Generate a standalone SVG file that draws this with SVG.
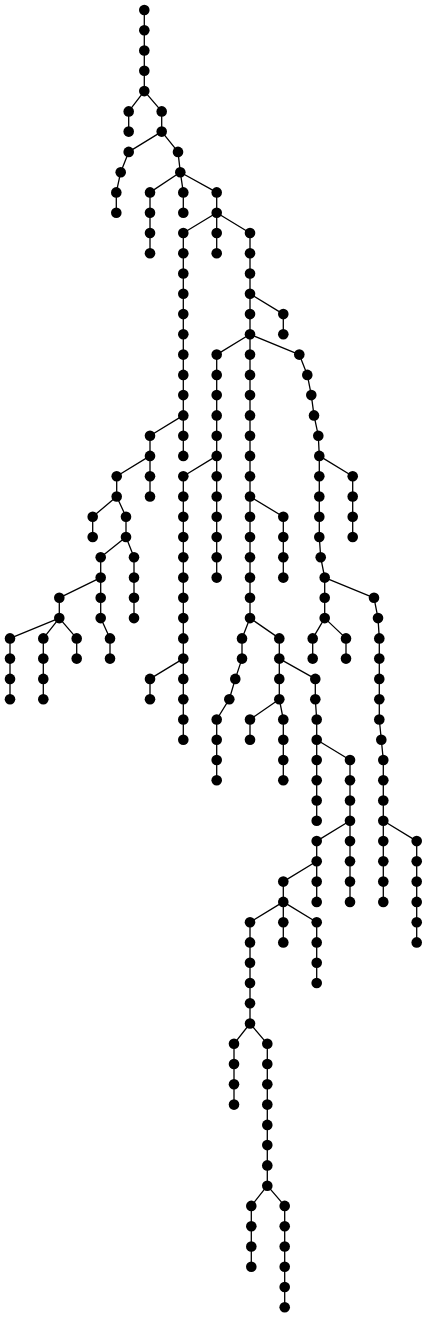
<svg xmlns="http://www.w3.org/2000/svg" xmlns:xlink="http://www.w3.org/1999/xlink" width="427" height="1317" viewBox="0 0 427 1317">
<style>
.e path{fill:none;stroke:#000;stroke-width:1.3;stroke-linejoin:round}
.n{fill:#000}
</style>
<defs><circle id="d" r="5.3"/></defs>
<rect width="427" height="1317" fill="#fff"/>
<g class="e" id="connectors">
<path d="M144.3 10V91.1"/>
<path d="M144.3 91.1L128.7 111.4V131.6"/>
<path d="M144.3 91.1L161.7 111.4V131.6L128.7 151.9L120.7 172.2L116.3 192.4V212.7"/>
<path d="M161.7 131.6L178 151.9L180.3 172.2L150 192.4V253.2"/>
<path d="M180.3 172.2L183.3 192.4V212.7"/>
<path d="M180.3 172.2L216.7 192.4V253.2"/>
<path d="M216.7 212.7L183.3 233V455.9"/>
<path d="M216.7 212.7L250 233V618.1"/>
<path d="M183.3 415.4L150 435.7V496.5"/>
<path d="M150 455.9L116.7 476.2V496.5L92.7 516.8V537"/>
<path d="M116.7 496.5L126 516.8V537L134 557.3V618.1"/>
<path d="M126 537L100.7 557.3V618.1L110 638.4V658.6"/>
<path d="M100.7 577.6L59.3 597.8V618.1L10 638.4V699.2"/>
<path d="M59.3 618.1L43.3 638.4V699.2"/>
<path d="M59.3 618.1L76.7 638.4V658.6"/>
<path d="M250 293.8L283.3 314.1V334.3"/>
<path d="M250 334.3L216.7 354.6V577.6"/>
<path d="M216.7 455.9L183.3 476.2V739.7"/>
<path d="M183.3 658.6L150 678.9V699.2"/>
<path d="M250 496.5L283.3 516.8V577.6"/>
<path d="M250 334.3L299.3 354.6L307.3 374.9L311.3 395.1L314 415.4L318.3 435.7L319.3 455.9V537L320.7 557.3L324.7 577.6V618.1L312.7 638.4V658.6"/>
<path d="M319.3 455.9L352.7 476.2V537"/>
<path d="M324.7 618.1L346 638.4V658.6"/>
<path d="M324.7 577.6L374 597.8L378 618.1L379.3 638.4V719.5L381.3 739.7L383.3 760V901.9"/>
<path d="M383.3 820.8L416.7 841.1V942.4"/>
<path d="M250 618.1L242 638.4V658.6L235.3 678.9L229.3 699.2L216.7 719.5V780.3"/>
<path d="M250 618.1L279.3 638.4V699.2L250 719.5V739.7"/>
<path d="M279.3 699.2L283.3 719.5V780.3"/>
<path d="M279.3 658.6L315.3 678.9V699.2L316.7 719.5V820.8"/>
<path d="M316.7 739.7L350 760V901.9"/>
<path d="M350 820.8L316.7 841.1V901.9"/>
<path d="M316.7 861.3L283.3 881.6V942.4"/>
<path d="M283.3 901.9L316.7 922.2V983"/>
<path d="M283.3 901.9L250 922.2V1023.5L234 1043.8V1104.6"/>
<path d="M250 1023.5L267.3 1043.8V1185.7L251.3 1205.9V1266.7"/>
<path d="M267.3 1185.7L284.7 1205.9V1307.3"/>
</g>
<g class="n" id="nodes">
<g id="n0"><use href="#d" x="144.3" y="10"/></g>
<g id="n1"><use href="#d" x="144.3" y="30.3"/></g>
<g id="n2"><use href="#d" x="144.3" y="50.5"/></g>
<g id="n3"><use href="#d" x="144.3" y="70.8"/></g>
<g id="n4"><use href="#d" x="144.3" y="91.1"/></g>
<g id="n5"><use href="#d" x="128.7" y="111.4"/></g>
<g id="n6"><use href="#d" x="128.7" y="131.6"/></g>
<g id="n7"><use href="#d" x="161.7" y="111.4"/></g>
<g id="n8"><use href="#d" x="161.7" y="131.6"/></g>
<g id="n9"><use href="#d" x="128.7" y="151.9"/></g>
<g id="n10"><use href="#d" x="120.7" y="172.2"/></g>
<g id="n11"><use href="#d" x="116.3" y="192.4"/></g>
<g id="n12"><use href="#d" x="116.3" y="212.7"/></g>
<g id="n13"><use href="#d" x="178" y="151.9"/></g>
<g id="n14"><use href="#d" x="180.3" y="172.2"/></g>
<g id="n15"><use href="#d" x="150" y="192.4"/></g>
<g id="n16"><use href="#d" x="150" y="212.7"/></g>
<g id="n17"><use href="#d" x="150" y="233"/></g>
<g id="n18"><use href="#d" x="150" y="253.2"/></g>
<g id="n19"><use href="#d" x="183.3" y="192.4"/></g>
<g id="n20"><use href="#d" x="183.3" y="212.7"/></g>
<g id="n21"><use href="#d" x="216.7" y="192.4"/></g>
<g id="n22"><use href="#d" x="216.7" y="212.7"/></g>
<g id="n23"><use href="#d" x="216.7" y="233"/></g>
<g id="n24"><use href="#d" x="216.7" y="253.2"/></g>
<g id="n25"><use href="#d" x="183.3" y="233"/></g>
<g id="n26"><use href="#d" x="183.3" y="253.2"/></g>
<g id="n27"><use href="#d" x="183.3" y="273.5"/></g>
<g id="n28"><use href="#d" x="183.3" y="293.8"/></g>
<g id="n29"><use href="#d" x="183.3" y="314.1"/></g>
<g id="n30"><use href="#d" x="183.3" y="334.3"/></g>
<g id="n31"><use href="#d" x="183.3" y="354.6"/></g>
<g id="n32"><use href="#d" x="183.3" y="374.9"/></g>
<g id="n33"><use href="#d" x="183.3" y="395.1"/></g>
<g id="n34"><use href="#d" x="183.3" y="415.4"/></g>
<g id="n35"><use href="#d" x="183.3" y="435.7"/></g>
<g id="n36"><use href="#d" x="183.3" y="455.9"/></g>
<g id="n37"><use href="#d" x="150" y="435.7"/></g>
<g id="n38"><use href="#d" x="150" y="455.9"/></g>
<g id="n39"><use href="#d" x="150" y="476.2"/></g>
<g id="n40"><use href="#d" x="150" y="496.5"/></g>
<g id="n41"><use href="#d" x="116.7" y="476.2"/></g>
<g id="n42"><use href="#d" x="116.7" y="496.5"/></g>
<g id="n43"><use href="#d" x="92.7" y="516.8"/></g>
<g id="n44"><use href="#d" x="92.7" y="537"/></g>
<g id="n45"><use href="#d" x="126" y="516.8"/></g>
<g id="n46"><use href="#d" x="126" y="537"/></g>
<g id="n47"><use href="#d" x="134" y="557.3"/></g>
<g id="n48"><use href="#d" x="134" y="577.6"/></g>
<g id="n49"><use href="#d" x="134" y="597.8"/></g>
<g id="n50"><use href="#d" x="134" y="618.1"/></g>
<g id="n51"><use href="#d" x="100.7" y="557.3"/></g>
<g id="n52"><use href="#d" x="100.7" y="577.6"/></g>
<g id="n53"><use href="#d" x="100.7" y="597.8"/></g>
<g id="n54"><use href="#d" x="100.7" y="618.1"/></g>
<g id="n55"><use href="#d" x="110" y="638.4"/></g>
<g id="n56"><use href="#d" x="110" y="658.6"/></g>
<g id="n57"><use href="#d" x="59.3" y="597.8"/></g>
<g id="n58"><use href="#d" x="59.3" y="618.1"/></g>
<g id="n59"><use href="#d" x="10" y="638.4"/></g>
<g id="n60"><use href="#d" x="10" y="658.6"/></g>
<g id="n61"><use href="#d" x="10" y="678.9"/></g>
<g id="n62"><use href="#d" x="10" y="699.2"/></g>
<g id="n63"><use href="#d" x="43.3" y="638.4"/></g>
<g id="n64"><use href="#d" x="43.3" y="658.6"/></g>
<g id="n65"><use href="#d" x="43.3" y="678.9"/></g>
<g id="n66"><use href="#d" x="43.3" y="699.2"/></g>
<g id="n67"><use href="#d" x="76.7" y="638.4"/></g>
<g id="n68"><use href="#d" x="76.7" y="658.6"/></g>
<g id="n69"><use href="#d" x="250" y="233"/></g>
<g id="n70"><use href="#d" x="250" y="253.2"/></g>
<g id="n71"><use href="#d" x="250" y="273.5"/></g>
<g id="n72"><use href="#d" x="250" y="293.8"/></g>
<g id="n73"><use href="#d" x="250" y="314.1"/></g>
<g id="n74"><use href="#d" x="250" y="334.3"/></g>
<g id="n75"><use href="#d" x="250" y="354.6"/></g>
<g id="n76"><use href="#d" x="250" y="374.9"/></g>
<g id="n77"><use href="#d" x="250" y="395.1"/></g>
<g id="n78"><use href="#d" x="250" y="415.4"/></g>
<g id="n79"><use href="#d" x="250" y="435.7"/></g>
<g id="n80"><use href="#d" x="250" y="455.9"/></g>
<g id="n81"><use href="#d" x="250" y="476.2"/></g>
<g id="n82"><use href="#d" x="250" y="496.5"/></g>
<g id="n83"><use href="#d" x="250" y="516.8"/></g>
<g id="n84"><use href="#d" x="250" y="537"/></g>
<g id="n85"><use href="#d" x="250" y="557.3"/></g>
<g id="n86"><use href="#d" x="250" y="577.6"/></g>
<g id="n87"><use href="#d" x="250" y="597.8"/></g>
<g id="n88"><use href="#d" x="250" y="618.1"/></g>
<g id="n89"><use href="#d" x="283.3" y="314.1"/></g>
<g id="n90"><use href="#d" x="283.3" y="334.3"/></g>
<g id="n91"><use href="#d" x="216.7" y="354.6"/></g>
<g id="n92"><use href="#d" x="216.7" y="374.9"/></g>
<g id="n93"><use href="#d" x="216.7" y="395.1"/></g>
<g id="n94"><use href="#d" x="216.7" y="415.4"/></g>
<g id="n95"><use href="#d" x="216.7" y="435.7"/></g>
<g id="n96"><use href="#d" x="216.7" y="455.9"/></g>
<g id="n97"><use href="#d" x="216.7" y="476.2"/></g>
<g id="n98"><use href="#d" x="216.7" y="496.5"/></g>
<g id="n99"><use href="#d" x="216.7" y="516.8"/></g>
<g id="n100"><use href="#d" x="216.7" y="537"/></g>
<g id="n101"><use href="#d" x="216.7" y="557.3"/></g>
<g id="n102"><use href="#d" x="216.7" y="577.6"/></g>
<g id="n103"><use href="#d" x="183.3" y="476.2"/></g>
<g id="n104"><use href="#d" x="183.3" y="496.5"/></g>
<g id="n105"><use href="#d" x="183.3" y="516.8"/></g>
<g id="n106"><use href="#d" x="183.3" y="537"/></g>
<g id="n107"><use href="#d" x="183.3" y="557.3"/></g>
<g id="n108"><use href="#d" x="183.3" y="577.6"/></g>
<g id="n109"><use href="#d" x="183.3" y="597.8"/></g>
<g id="n110"><use href="#d" x="183.3" y="618.1"/></g>
<g id="n111"><use href="#d" x="183.3" y="638.4"/></g>
<g id="n112"><use href="#d" x="183.3" y="658.6"/></g>
<g id="n113"><use href="#d" x="183.3" y="678.9"/></g>
<g id="n114"><use href="#d" x="183.3" y="699.2"/></g>
<g id="n115"><use href="#d" x="183.3" y="719.5"/></g>
<g id="n116"><use href="#d" x="183.3" y="739.7"/></g>
<g id="n117"><use href="#d" x="150" y="678.9"/></g>
<g id="n118"><use href="#d" x="150" y="699.2"/></g>
<g id="n119"><use href="#d" x="283.3" y="516.8"/></g>
<g id="n120"><use href="#d" x="283.3" y="537"/></g>
<g id="n121"><use href="#d" x="283.3" y="557.3"/></g>
<g id="n122"><use href="#d" x="283.3" y="577.6"/></g>
<g id="n123"><use href="#d" x="299.3" y="354.6"/></g>
<g id="n124"><use href="#d" x="307.3" y="374.9"/></g>
<g id="n125"><use href="#d" x="311.3" y="395.1"/></g>
<g id="n126"><use href="#d" x="314" y="415.4"/></g>
<g id="n127"><use href="#d" x="318.3" y="435.7"/></g>
<g id="n128"><use href="#d" x="319.3" y="455.9"/></g>
<g id="n129"><use href="#d" x="319.3" y="476.2"/></g>
<g id="n130"><use href="#d" x="319.3" y="496.5"/></g>
<g id="n131"><use href="#d" x="319.3" y="516.8"/></g>
<g id="n132"><use href="#d" x="319.3" y="537"/></g>
<g id="n133"><use href="#d" x="352.7" y="476.2"/></g>
<g id="n134"><use href="#d" x="352.7" y="496.5"/></g>
<g id="n135"><use href="#d" x="352.7" y="516.8"/></g>
<g id="n136"><use href="#d" x="352.7" y="537"/></g>
<g id="n137"><use href="#d" x="320.7" y="557.3"/></g>
<g id="n138"><use href="#d" x="324.7" y="577.6"/></g>
<g id="n139"><use href="#d" x="324.7" y="597.8"/></g>
<g id="n140"><use href="#d" x="324.7" y="618.1"/></g>
<g id="n141"><use href="#d" x="312.7" y="638.4"/></g>
<g id="n142"><use href="#d" x="312.7" y="658.6"/></g>
<g id="n143"><use href="#d" x="346" y="638.4"/></g>
<g id="n144"><use href="#d" x="346" y="658.6"/></g>
<g id="n145"><use href="#d" x="374" y="597.8"/></g>
<g id="n146"><use href="#d" x="378" y="618.1"/></g>
<g id="n147"><use href="#d" x="379.3" y="638.4"/></g>
<g id="n148"><use href="#d" x="379.3" y="658.6"/></g>
<g id="n149"><use href="#d" x="379.3" y="678.9"/></g>
<g id="n150"><use href="#d" x="379.3" y="699.2"/></g>
<g id="n151"><use href="#d" x="379.3" y="719.5"/></g>
<g id="n152"><use href="#d" x="381.3" y="739.7"/></g>
<g id="n153"><use href="#d" x="383.3" y="760"/></g>
<g id="n154"><use href="#d" x="383.3" y="780.3"/></g>
<g id="n155"><use href="#d" x="383.3" y="800.5"/></g>
<g id="n156"><use href="#d" x="383.3" y="820.8"/></g>
<g id="n157"><use href="#d" x="383.3" y="841.1"/></g>
<g id="n158"><use href="#d" x="383.3" y="861.3"/></g>
<g id="n159"><use href="#d" x="383.3" y="881.6"/></g>
<g id="n160"><use href="#d" x="383.3" y="901.9"/></g>
<g id="n161"><use href="#d" x="416.7" y="841.1"/></g>
<g id="n162"><use href="#d" x="416.7" y="861.3"/></g>
<g id="n163"><use href="#d" x="416.7" y="881.6"/></g>
<g id="n164"><use href="#d" x="416.7" y="901.9"/></g>
<g id="n165"><use href="#d" x="416.7" y="922.2"/></g>
<g id="n166"><use href="#d" x="416.7" y="942.4"/></g>
<g id="n167"><use href="#d" x="242" y="638.4"/></g>
<g id="n168"><use href="#d" x="242" y="658.6"/></g>
<g id="n169"><use href="#d" x="235.3" y="678.9"/></g>
<g id="n170"><use href="#d" x="229.3" y="699.2"/></g>
<g id="n171"><use href="#d" x="216.7" y="719.5"/></g>
<g id="n172"><use href="#d" x="216.7" y="739.7"/></g>
<g id="n173"><use href="#d" x="216.7" y="760"/></g>
<g id="n174"><use href="#d" x="216.7" y="780.3"/></g>
<g id="n175"><use href="#d" x="279.3" y="638.4"/></g>
<g id="n176"><use href="#d" x="279.3" y="658.6"/></g>
<g id="n177"><use href="#d" x="279.3" y="678.9"/></g>
<g id="n178"><use href="#d" x="279.3" y="699.2"/></g>
<g id="n179"><use href="#d" x="250" y="719.5"/></g>
<g id="n180"><use href="#d" x="250" y="739.7"/></g>
<g id="n181"><use href="#d" x="283.3" y="719.5"/></g>
<g id="n182"><use href="#d" x="283.3" y="739.7"/></g>
<g id="n183"><use href="#d" x="283.3" y="760"/></g>
<g id="n184"><use href="#d" x="283.3" y="780.3"/></g>
<g id="n185"><use href="#d" x="315.3" y="678.9"/></g>
<g id="n186"><use href="#d" x="315.3" y="699.2"/></g>
<g id="n187"><use href="#d" x="316.7" y="719.5"/></g>
<g id="n188"><use href="#d" x="316.7" y="739.7"/></g>
<g id="n189"><use href="#d" x="316.7" y="760"/></g>
<g id="n190"><use href="#d" x="316.7" y="780.3"/></g>
<g id="n191"><use href="#d" x="316.7" y="800.5"/></g>
<g id="n192"><use href="#d" x="316.7" y="820.8"/></g>
<g id="n193"><use href="#d" x="350" y="760"/></g>
<g id="n194"><use href="#d" x="350" y="780.3"/></g>
<g id="n195"><use href="#d" x="350" y="800.5"/></g>
<g id="n196"><use href="#d" x="350" y="820.8"/></g>
<g id="n197"><use href="#d" x="350" y="841.1"/></g>
<g id="n198"><use href="#d" x="350" y="861.3"/></g>
<g id="n199"><use href="#d" x="350" y="881.6"/></g>
<g id="n200"><use href="#d" x="350" y="901.9"/></g>
<g id="n201"><use href="#d" x="316.7" y="841.1"/></g>
<g id="n202"><use href="#d" x="316.7" y="861.3"/></g>
<g id="n203"><use href="#d" x="316.7" y="881.6"/></g>
<g id="n204"><use href="#d" x="316.7" y="901.9"/></g>
<g id="n205"><use href="#d" x="283.3" y="881.6"/></g>
<g id="n206"><use href="#d" x="283.3" y="901.9"/></g>
<g id="n207"><use href="#d" x="283.3" y="922.2"/></g>
<g id="n208"><use href="#d" x="283.3" y="942.4"/></g>
<g id="n209"><use href="#d" x="316.7" y="922.2"/></g>
<g id="n210"><use href="#d" x="316.7" y="942.4"/></g>
<g id="n211"><use href="#d" x="316.7" y="962.7"/></g>
<g id="n212"><use href="#d" x="316.7" y="983"/></g>
<g id="n213"><use href="#d" x="250" y="922.2"/></g>
<g id="n214"><use href="#d" x="250" y="942.4"/></g>
<g id="n215"><use href="#d" x="250" y="962.7"/></g>
<g id="n216"><use href="#d" x="250" y="983"/></g>
<g id="n217"><use href="#d" x="250" y="1003.2"/></g>
<g id="n218"><use href="#d" x="250" y="1023.5"/></g>
<g id="n219"><use href="#d" x="234" y="1043.8"/></g>
<g id="n220"><use href="#d" x="234" y="1064"/></g>
<g id="n221"><use href="#d" x="234" y="1084.3"/></g>
<g id="n222"><use href="#d" x="234" y="1104.6"/></g>
<g id="n223"><use href="#d" x="267.3" y="1043.8"/></g>
<g id="n224"><use href="#d" x="267.3" y="1064"/></g>
<g id="n225"><use href="#d" x="267.3" y="1084.3"/></g>
<g id="n226"><use href="#d" x="267.3" y="1104.6"/></g>
<g id="n227"><use href="#d" x="267.3" y="1124.9"/></g>
<g id="n228"><use href="#d" x="267.3" y="1145.1"/></g>
<g id="n229"><use href="#d" x="267.3" y="1165.4"/></g>
<g id="n230"><use href="#d" x="267.3" y="1185.7"/></g>
<g id="n231"><use href="#d" x="251.3" y="1205.9"/></g>
<g id="n232"><use href="#d" x="251.3" y="1226.2"/></g>
<g id="n233"><use href="#d" x="251.3" y="1246.5"/></g>
<g id="n234"><use href="#d" x="251.3" y="1266.7"/></g>
<g id="n235"><use href="#d" x="284.7" y="1205.9"/></g>
<g id="n236"><use href="#d" x="284.7" y="1226.2"/></g>
<g id="n237"><use href="#d" x="284.7" y="1246.5"/></g>
<g id="n238"><use href="#d" x="284.7" y="1266.7"/></g>
<g id="n239"><use href="#d" x="284.7" y="1287"/></g>
<g id="n240"><use href="#d" x="284.7" y="1307.3"/></g>
</g>
</svg>
